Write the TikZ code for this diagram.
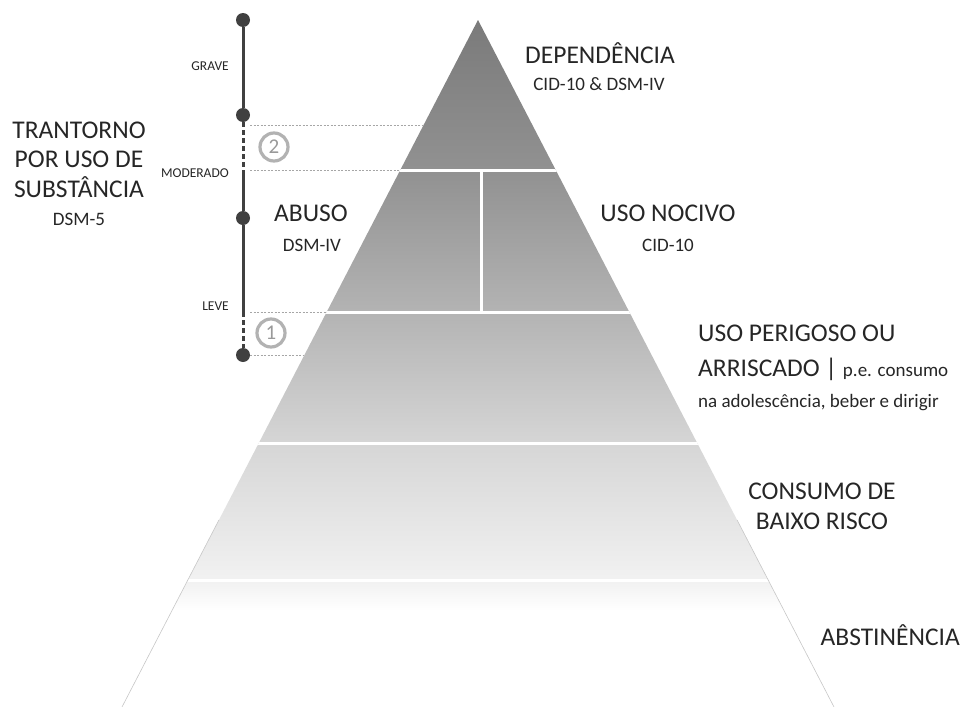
\documentclass[tikz,border=0pt]{standalone}
\usepackage{fontspec}
\setmainfont{Carlito}
\usepackage{tikz}

\pgfdeclareverticalshading{pyramid}{100bp}{color(0bp)=(white); color(32bp)=(white); color(34bp)=(black!5); color(44bp)=(black!16); color(54bp)=(black!30); color(64bp)=(black!43); color(75bp)=(black!52); color(100bp)=(black!52)}

\begin{document}
\begin{tikzpicture}[x=1pt,y=-1pt,
big/.style={text=black!85,font=\fontsize{25.5}{30}\selectfont,inner sep=0pt,anchor=base},
sub/.style={text=black!85,font=\fontsize{19}{23}\selectfont,inner sep=0pt,anchor=base},
level/.style={text=black!85,font=\fontsize{13.5}{16}\selectfont,inner sep=0pt,anchor=base east},
dot/.style={circle,fill=black!75,inner sep=0pt,minimum size=14pt},
ruler/.style={draw=black!75,line width=3pt},
gap/.style={ruler,dash pattern=on 5pt off 3pt},
guide/.style={draw=black!35,line width=0.8pt,dash pattern=on 2pt off 1.5pt},
num/.style={circle,draw=black!30,line width=3.2pt,text=black!40,minimum size=28pt,inner sep=0pt,font=\fontsize{21}{25}\selectfont},
]
\useasboundingbox (0,0) rectangle (962,707);

% pyramid
\coordinate (apex) at (478,20);
\coordinate (bl) at (122,707);
\coordinate (br) at (834,707);
\begin{scope}
\clip (apex) -- (bl) -- (br) -- cycle;
\shade[shading=pyramid] (0,20) rectangle (962,707);
\foreach \y in {170,312,443,580}
  \draw[white,line width=3pt] (0,\y) -- (962,\y);
\draw[white,line width=3pt] (481,170) -- (481,312);
\end{scope}
\draw[black!22,line width=0.6pt] (intersection of apex--bl and 0,520--1,520) -- (bl);
\draw[black!22,line width=0.6pt] (intersection of apex--br and 0,520--1,520) -- (br);

% severity scale
\node (s0) [dot] at (243,20) {};
\node (s1) [dot] at (243,115) {};
\node (s2) [dot] at (243,218) {};
\node (s3) [dot] at (243,355) {};
\coordinate (m1) at (243,170);
\coordinate (m2) at (243,312);
\draw[ruler] (s0) -- (s1);
\draw[gap] (s1) -- (m1);
\draw[ruler] (m1) -- (s2) -- (m2);
\draw[gap] (m2) -- (s3);

\coordinate (g1) at (250,125);
\coordinate (g2) at (250,170);
\coordinate (g3) at (250,312);
\coordinate (g4) at (250,355);
\draw[guide] (g1) -- (intersection of apex--bl and 0,125--1,125);
\draw[guide] (g2) -- (intersection of apex--bl and 0,170--1,170);
\draw[guide] (g3) -- (intersection of apex--bl and 0,312--1,312);
\draw[guide] (g4) -- (intersection of apex--bl and 0,355--1,355);

\node (two) [num] at (274,147) {2};
\node (one) [num] at (271,333) {1};

\node (grave) [level] at (229,70) {GRAVE};
\node (moderado) [level] at (229,177) {MODERADO};
\node (leve) [level] at (229,310) {LEVE};

\node (tus1) [big] at (79,138) {TRANTORNO};
\node (tus2) [big] at (79,167.5) {POR USO DE};
\node (tus3) [big] at (79,197) {SUBSTÂNCIA};
\node (dsm5) [sub] at (79,225) {DSM-5};

% levels
\node (dep) [big] at (600,63) {DEPENDÊNCIA};
\node (depsub) [sub] at (599,90) {CID-10 \& DSM-IV};
\node (abuso) [big] at (311,221) {ABUSO};
\node (abusosub) [sub] at (312,251) {DSM-IV};
\node (nocivo) [big] at (668,221) {USO NOCIVO};
\node (nocivosub) [sub] at (668,251) {CID-10};
\node (perig1) [big,anchor=base west] at (698,341) {USO PERIGOSO OU};
\node (perig2) [big,anchor=base west] at (698,376) {ARRISCADO | {\fontsize{19}{23}\selectfont p.e. consumo}};
\node (perig3) [sub,anchor=base west] at (698,407) {na adolescência, beber e dirigir};
\node (baixo1) [big] at (822,499) {CONSUMO DE};
\node (baixo2) [big] at (822,529) {BAIXO RISCO};
\node (abst) [big,anchor=base east] at (960,645) {ABSTINÊNCIA};
\end{tikzpicture}
\end{document}
